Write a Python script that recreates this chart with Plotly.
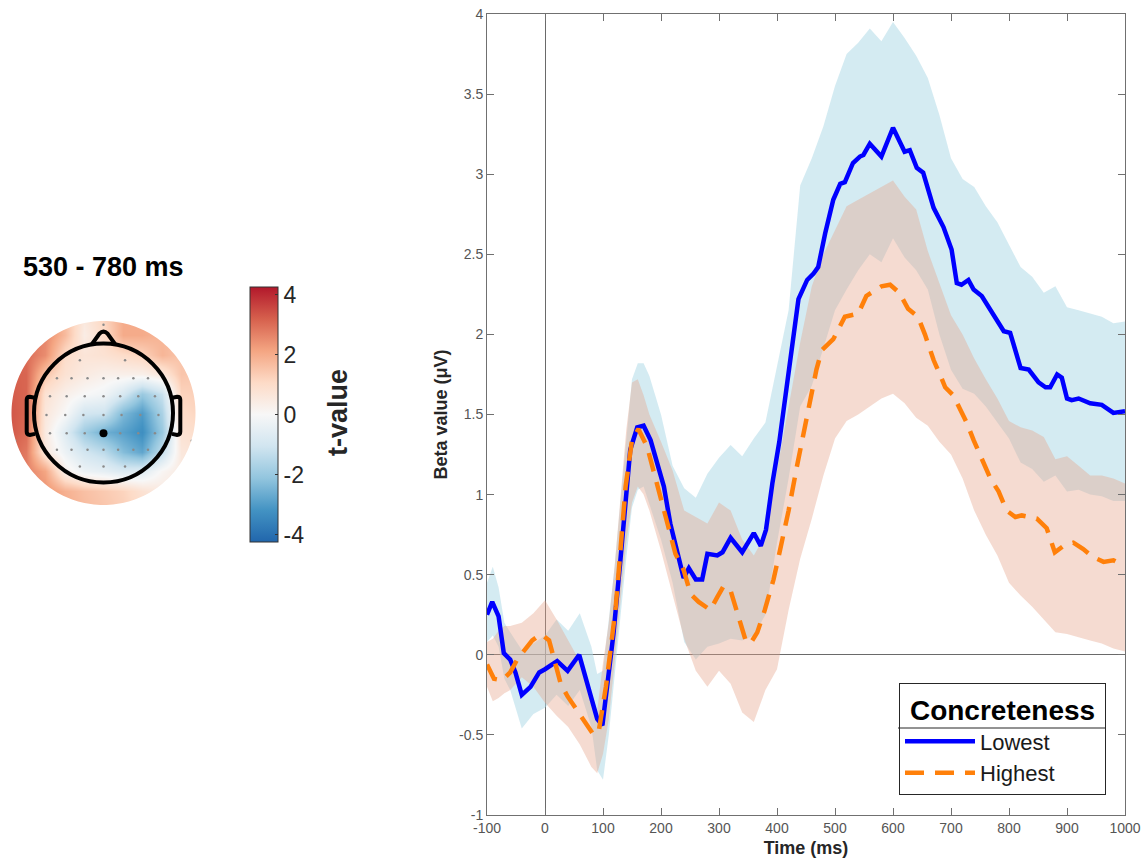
import numpy as np
import plotly.graph_objects as go

# ------------------------------------------------------------------ ERP data
lowest_t = [-100, -91, -80, -71, -60, -51, -40, -25, -10, 0, 21, 39, 59, 73, 90, 99, 107, 118, 130, 138,
            147, 159, 170, 182, 194, 205, 216, 228, 239, 248, 260, 271, 280, 297, 306, 320, 340, 360, 372, 381,
            392, 404, 416, 428, 437, 452, 463, 471, 483, 497, 509, 517, 531, 543, 549, 560, 580, 600, 620, 629,
            641, 652, 670, 687, 701, 710, 718, 730, 739, 753, 773, 791, 802, 820, 834, 851, 863, 871, 883, 891,
            900, 908, 920, 940, 960, 980, 1000]
lowest_v = [0.25, 0.33, 0.24, 0.01, -0.03, -0.11, -0.25, -0.20, -0.11, -0.09, -0.04, -0.10, 0.00, -0.18, -0.40,
            -0.44, -0.20, 0.13, 0.59, 0.95, 1.28, 1.42, 1.43, 1.34, 1.18, 1.05, 0.82, 0.65, 0.48, 0.54,
            0.47, 0.47, 0.63, 0.62, 0.64, 0.73, 0.64, 0.76, 0.68, 0.78, 1.07, 1.33, 1.65, 1.98, 2.22, 2.34,
            2.38, 2.42, 2.63, 2.84, 2.94, 2.95, 3.07, 3.11, 3.12, 3.19, 3.11, 3.29, 3.14, 3.15, 3.04, 3.01,
            2.79, 2.67, 2.53, 2.32, 2.31, 2.34, 2.28, 2.24, 2.12, 2.02, 2.01, 1.79, 1.78, 1.70, 1.67, 1.67,
            1.75, 1.73, 1.60, 1.59, 1.60, 1.57, 1.56, 1.51, 1.52]

highest_t = [-100, -88, -74, -60, -48, -36, -22, -7, 7, 16, 27, 39, 56, 72, 84, 93, 105, 113, 122, 130,
             139, 150, 161, 176, 187, 199, 214, 225, 239, 251, 265, 285, 297, 308, 320, 331, 346, 354, 366, 379,
             394, 405, 420, 434, 445, 457, 468, 477, 497, 517, 540, 554, 580, 595, 611, 626, 643, 655, 670, 682,
             690, 704, 719, 727, 739, 753, 768, 782, 796, 811, 822, 848, 865, 879, 894, 911, 928, 945, 963, 980,
             991, 1000]
highest_v = [-0.06, -0.15, -0.16, -0.11, -0.03, 0.03, 0.09, 0.13, 0.09, -0.03, -0.18, -0.26, -0.35, -0.43,
             -0.50, -0.47, -0.20, 0.03, 0.30, 0.65, 1.05, 1.34, 1.41, 1.30, 1.15, 0.99, 0.78, 0.63, 0.53, 0.38,
             0.33, 0.28, 0.36, 0.43, 0.40, 0.26, 0.09, 0.07, 0.14, 0.28, 0.47, 0.65, 0.90, 1.17, 1.36, 1.59,
             1.78, 1.90, 1.97, 2.11, 2.13, 2.24, 2.30, 2.31, 2.26, 2.16, 2.11, 2.00, 1.84, 1.74, 1.67, 1.62,
             1.51, 1.45, 1.34, 1.23, 1.10, 1.02, 0.90, 0.86, 0.87, 0.85, 0.79, 0.64, 0.68, 0.70, 0.66, 0.61,
             0.58, 0.59, 0.57, 0.57]

band_t = [-100, -90, -80, -70, -60, -40, -20, 0, 20, 40, 60, 80, 90, 100, 110, 120, 130, 140, 150, 160, 170,
          180, 200, 220, 240, 260, 280, 300, 320, 340, 360, 380, 400, 420, 440, 460, 480, 500, 520, 540, 560,
          580, 600, 620, 640, 660, 680, 700, 720, 740, 760, 780, 800, 820, 840, 860, 880, 900, 920, 940, 960,
          980, 1000]
lowest_hi = [0.45, 0.55, 0.42, 0.20, 0.14, 0.03, 0.07, 0.12, 0.22, 0.15, 0.26, 0.05, -0.12, -0.10, 0.22, 0.55,
             0.95, 1.35, 1.72, 1.82, 1.82, 1.74, 1.50, 1.18, 1.04, 0.98, 1.13, 1.23, 1.31, 1.24, 1.35, 1.45,
             1.80, 2.15, 2.93, 3.10, 3.30, 3.55, 3.75, 3.82, 3.91, 3.83, 3.95, 3.85, 3.74, 3.60, 3.37, 3.10,
             2.97, 2.92, 2.80, 2.70, 2.56, 2.42, 2.36, 2.26, 2.30, 2.17, 2.15, 2.13, 2.11, 2.07, 2.08]
lowest_lo = [0.08, 0.12, 0.05, -0.15, -0.22, -0.46, -0.37, -0.33, -0.25, -0.32, -0.22, -0.45, -0.72, -0.78,
             -0.50, -0.15, 0.22, 0.60, 0.92, 1.03, 1.05, 0.95, 0.72, 0.45, 0.08, -0.03, 0.05, 0.07, 0.10, 0.09,
             0.12, 0.25, 0.70, 1.10, 1.55, 1.68, 1.92, 2.15, 2.28, 2.40, 2.50, 2.45, 2.60, 2.48, 2.40, 2.28,
             2.00, 1.78, 1.66, 1.63, 1.55, 1.45, 1.35, 1.20, 1.16, 1.08, 1.12, 1.02, 1.03, 1.00, 0.99, 0.96, 0.96]
highest_hi = [0.08, 0.10, 0.15, 0.18, 0.18, 0.20, 0.26, 0.34, 0.22, 0.09, -0.04, -0.24, -0.35, -0.05, 0.20,
              0.55, 0.95, 1.40, 1.70, 1.72, 1.62, 1.50, 1.33, 1.15, 0.90, 0.86, 0.82, 0.95, 0.90, 0.72, 0.62,
              0.75, 1.15, 1.55, 1.95, 2.30, 2.50, 2.65, 2.80, 2.84, 2.88, 2.92, 2.96, 2.86, 2.78, 2.52, 2.32,
              2.12, 2.00, 1.85, 1.72, 1.60, 1.46, 1.42, 1.40, 1.36, 1.22, 1.24, 1.18, 1.12, 1.12, 1.10, 1.07]
highest_lo = [-0.20, -0.29, -0.27, -0.24, -0.22, -0.14, -0.20, -0.30, -0.38, -0.45, -0.56, -0.70, -0.74, -0.62,
              -0.40, -0.05, 0.30, 0.70, 0.95, 1.05, 1.00, 0.90, 0.65, 0.38, 0.10, -0.10, -0.20, -0.10, -0.18,
              -0.36, -0.42, -0.22, -0.09, 0.28, 0.60, 0.85, 1.12, 1.35, 1.46, 1.50, 1.55, 1.60, 1.63, 1.57,
              1.48, 1.43, 1.33, 1.25, 1.10, 0.90, 0.75, 0.62, 0.45, 0.37, 0.30, 0.22, 0.14, 0.13, 0.11, 0.09,
              0.07, 0.04, 0.02]

series_names = ["Lowest", "Highest"]
legend_title = "Concreteness"
x_tickvals = [-100, 0, 100, 200, 300, 400, 500, 600, 700, 800, 900, 1000]
x_ticktext = ["-100", "0", "100", "200", "300", "400", "500", "600", "700", "800", "900", "1000"]
y_tickvals = [-1, -0.5, 0, 0.5, 1, 1.5, 2, 2.5, 3, 3.5, 4]
y_ticktext = ["-1", "-0.5", "0", "0.5", "1", "1.5", "2", "2.5", "3", "3.5", "4"]

# ------------------------------------------------------------------ topography data (t-values)
topo_x = [-1.4, -1.12, -0.84, -0.56, -0.28, 0.0, 0.28, 0.56, 0.84, 1.12, 1.4]
topo_y_top_down = [1.4, 1.12, 0.84, 0.56, 0.28, 0.0, -0.28, -0.56, -0.84, -1.12, -1.4]
topo_rows_top_down = [
    [2.8, 2.8, 2.6, 1.6, 0.6, 1.2, 2.0, 2.0, 1.8, 1.6, 1.5],
    [2.9, 2.9, 2.6, 1.7, 0.4, 1.0, 2.0, 2.0, 1.8, 1.6, 1.5],
    [3.1, 3.0, 2.5, 1.0, 0.7, 0.8, 1.0, 1.2, 1.8, 1.5, 1.4],
    [3.2, 3.1, 1.5, 0.8, 0.5, 0.3, 0.3, 0.3, 0.6, 1.5, 1.4],
    [3.3, 3.1, 0.8, 0.3, 0.0, -0.2, -0.9, -2.0, -1.2, 1.2, 1.3],
    [3.4, 3.1, 0.6, 0.0, -1.0, -1.1, -2.4, -3.0, -1.7, 1.0, 1.2],
    [3.4, 3.0, 0.5, -0.7, -1.9, -2.6, -2.9, -3.3, -2.0, 0.8, 1.0],
    [3.2, 2.8, 0.6, -0.3, -1.0, -1.4, -2.3, -2.8, -1.3, 0.6, 0.8],
    [3.0, 2.7, 2.1, 0.3, -0.3, -0.5, -0.8, -0.7, 0.1, 0.5, 0.6],
    [2.8, 2.6, 2.4, 1.9, 1.6, 1.4, 1.2, 0.8, 0.5, 0.5, 0.6],
    [2.7, 2.5, 2.3, 2.0, 1.7, 1.5, 1.3, 1.0, 0.7, 0.6, 0.6],
]
topo_y = topo_y_top_down[::-1]
topo_z = topo_rows_top_down[::-1]

elec_x = [-0.34, 0.31,
          -0.67, -0.46, -0.23, 0.0, 0.21, 0.43, 0.64,
          -0.77, -0.53, -0.27, 0.0, 0.24, 0.50, 0.74,
          -0.82, -0.55, -0.29, 0.0, 0.26, 0.53, 0.79,
          -0.77, -0.53, -0.27, 0.24, 0.50, 0.74,
          -0.67, -0.46, -0.23, 0.0, 0.21, 0.43, 0.64,
          -0.34, 0.0, 0.31,
          0.0, -1.27, 1.27]
elec_y = [0.76, 0.76,
          0.50, 0.50, 0.50, 0.50, 0.50, 0.50, 0.50,
          0.24, 0.24, 0.24, 0.24, 0.24, 0.24, 0.24,
          -0.03, -0.03, -0.03, -0.03, -0.03, -0.03, -0.03,
          -0.29, -0.29, -0.29, -0.29, -0.29, -0.29,
          -0.53, -0.53, -0.53, -0.53, -0.53, -0.53, -0.53,
          -0.77, -0.77, -0.77,
          1.27, -0.40, -0.40]
sel_x = [0.0]
sel_y = [-0.29]
cbar_tickvals = [-4, -2, 0, 2, 4]
cbar_ticktext = ["-4", "-2", "0", "2", "4"]
cbar_title = "t-value"
topo_title = "530 - 780 ms"

# ------------------------------------------------------------------ figure
W, H = 1146, 861
FONT = "Liberation Sans, Arial, Helvetica, sans-serif"
HEAD_PX = 69.5          # head radius in pixels
CX, CY = 103.5, 413.0   # head centre in pixels

fig = go.Figure()

# confidence bands
fig.add_trace(go.Scatter(
    x=band_t + band_t[::-1], y=lowest_hi + lowest_lo[::-1], fill="toself",
    fillcolor="rgba(173,216,230,0.52)", line=dict(width=0), mode="lines",
    showlegend=False, hoverinfo="skip", xaxis="x", yaxis="y"))
fig.add_trace(go.Scatter(
    x=band_t + band_t[::-1], y=highest_hi + highest_lo[::-1], fill="toself",
    fillcolor="rgba(230,165,140,0.40)", line=dict(width=0), mode="lines",
    showlegend=False, hoverinfo="skip", xaxis="x", yaxis="y"))

# mean lines
fig.add_trace(go.Scatter(
    x=lowest_t, y=lowest_v, mode="lines", name=series_names[0],
    line=dict(color="#0000ff", width=4.5), xaxis="x", yaxis="y"))
fig.add_trace(go.Scatter(
    x=highest_t, y=highest_v, mode="lines", name=series_names[1],
    line=dict(color="#ff800a", width=4.5, dash="19px,11px"), xaxis="x", yaxis="y"))

# topography
cscale = [[0.0, "#2166ac"], [0.125, "#4393c3"], [0.25, "#92c5de"], [0.375, "#d1e5f0"],
          [0.5, "#f7f7f7"], [0.625, "#fddbc7"], [0.75, "#f4a582"], [0.875, "#d6604d"],
          [1.0, "#b2182b"]]
fig.add_trace(go.Heatmap(
    x=topo_x, y=topo_y, z=topo_z, zsmooth="best", colorscale=cscale,
    zmin=-4.25, zmax=4.25, xaxis="x2", yaxis="y2", hoverinfo="skip",
    colorbar=dict(
        x=250 / W, xanchor="left", xpad=0,
        y=1 - 414.5 / H, yanchor="middle", ypad=0,
        len=255, lenmode="pixels", thickness=28, thicknessmode="pixels",
        outlinecolor="#333333", outlinewidth=1,
        tickvals=cbar_tickvals, ticktext=cbar_ticktext,
        ticks="inside", ticklen=3, tickcolor="#333333",
        tickfont=dict(family=FONT, size=23, color="#262626"),
    )))
fig.add_trace(go.Scatter(
    x=elec_x, y=elec_y, mode="markers", marker=dict(size=2.5, color="#8a8a8a"),
    showlegend=False, hoverinfo="skip", xaxis="x2", yaxis="y2"))
fig.add_trace(go.Scatter(
    x=sel_x, y=sel_y, mode="markers", marker=dict(size=8, color="black"),
    showlegend=False, hoverinfo="skip", xaxis="x2", yaxis="y2"))

# mask outside the coloured disk + head outline
R = 92.0 / HEAD_PX
ang = np.linspace(0, 2 * np.pi, 181)
circ = " ".join(("M" if i == 0 else "L") + f"{R*np.cos(a):.4f},{R*np.sin(a):.4f}" for i, a in enumerate(ang))
mask_path = "M-4,-4 L4,-4 L4,4 L-4,4 Z " + circ + " Z"
shapes = [
    dict(type="path", path=mask_path, xref="x2", yref="y2", fillcolor="white",
         fillrule="evenodd", line=dict(width=0), layer="above"),
    dict(type="circle", xref="x2", yref="y2", x0=-1, y0=-1, x1=1, y1=1,
         line=dict(color="black", width=4), layer="above"),
    dict(type="path", xref="x2", yref="y2",
         path="M-0.17,0.986 L-0.06,1.14 Q0,1.2 0.06,1.14 L0.17,0.986",
         line=dict(color="black", width=4), layer="above"),
    dict(type="path", xref="x2", yref="y2",
         path="M-0.99,0.22 L-1.06,0.235 Q-1.105,0.235 -1.105,0.19 L-1.105,-0.27 Q-1.105,-0.315 -1.06,-0.315 L-0.985,-0.3",
         line=dict(color="black", width=4), layer="above"),
    dict(type="path", xref="x2", yref="y2",
         path="M0.99,0.22 L1.06,0.235 Q1.105,0.235 1.105,0.19 L1.105,-0.27 Q1.105,-0.315 1.06,-0.315 L0.985,-0.3",
         line=dict(color="black", width=4), layer="above"),
    # legend title separator
    dict(type="line", xref="paper", yref="paper", x0=898 / W, x1=1106 / W,
         y0=1 - 728 / H, y1=1 - 728 / H, line=dict(color="#262626", width=1)),
]

axis_common = dict(
    showline=True, linecolor="#707070", linewidth=1, mirror="ticks",
    ticks="inside", ticklen=7, tickcolor="#707070", tickwidth=1,
    showgrid=False, zeroline=True, zerolinecolor="#6a6a6a", zerolinewidth=1,
    automargin=False,
    tickfont=dict(family=FONT, size=14, color="#555555"),
)

fig.update_layout(
    width=W, height=H, margin=dict(l=0, r=0, t=0, b=0, autoexpand=False),
    paper_bgcolor="white", plot_bgcolor="white",
    font=dict(family=FONT),
    xaxis=dict(domain=[487 / W, 1125 / W], range=[-100, 1000], anchor="y",
               tickvals=x_tickvals, ticktext=x_ticktext,
               title=dict(text="<b>Time (ms)</b>", standoff=6,
                          font=dict(family=FONT, size=18, color="#262626")),
               **axis_common),
    yaxis=dict(domain=[1 - 815 / H, 1 - 14 / H], range=[-1, 4], anchor="x",
               tickvals=y_tickvals, ticktext=y_ticktext,
               title=dict(text="<b>Beta value (μV)</b>", standoff=6,
                          font=dict(family=FONT, size=18, color="#262626")),
               **axis_common),
    xaxis2=dict(domain=[0, 230 / W], range=[-CX / HEAD_PX, (230 - CX) / HEAD_PX],
                anchor="y2", visible=False, fixedrange=True, automargin=False),
    yaxis2=dict(domain=[1 - 540 / H, 1 - 290 / H], range=[(CY - 540) / HEAD_PX, (CY - 290) / HEAD_PX],
                anchor="x2", visible=False, fixedrange=True, automargin=False),
    legend=dict(x=1106 / W, xanchor="right", y=1 - 795 / H, yanchor="bottom",
                bgcolor="rgba(255,255,255,0)", bordercolor="#262626", borderwidth=1,
                font=dict(family=FONT, size=22, color="#1a1a1a"),
                title=dict(text=f"&nbsp;<b>{legend_title}</b>&nbsp;", side="top center",
                           font=dict(family=FONT, size=28, color="black")),
                itemwidth=70, tracegroupgap=0),
    shapes=shapes,
    annotations=[
        dict(text=f"<b>{topo_title}</b>", x=CX / W, y=1 - 267 / H,
             xref="paper", yref="paper", xanchor="center", yanchor="middle",
             showarrow=False, font=dict(family=FONT, size=27, color="black")),
        dict(text=f"<b>{cbar_title}</b>", x=338 / W, y=1 - 413 / H, textangle=-90,
             xref="paper", yref="paper", xanchor="center", yanchor="middle",
             showarrow=False, font=dict(family=FONT, size=27, color="#262626")),
    ],
)

fig.write_html("out.html")
